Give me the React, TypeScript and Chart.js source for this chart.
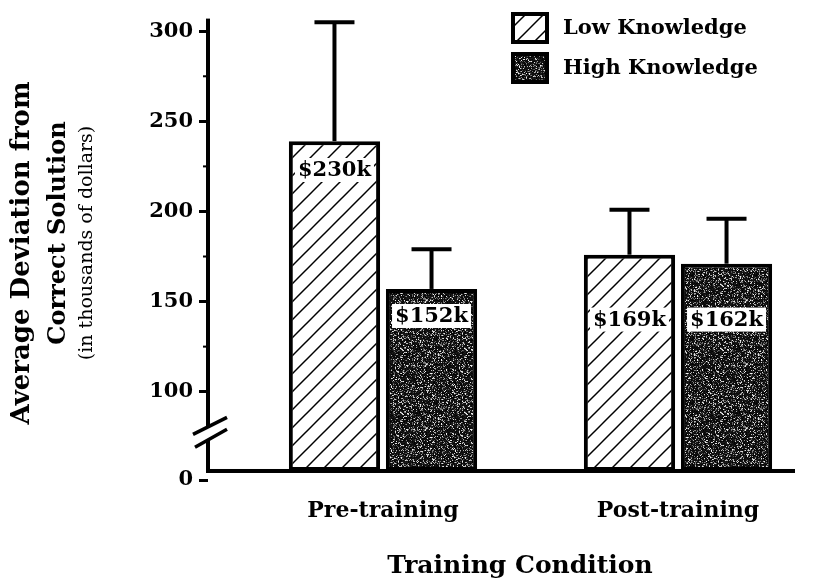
import React, { useEffect, useRef } from "react";
import { Chart, registerables } from "chart.js";

Chart.register(...registerables);

// ---------- data ----------
const categories = ["Pre-training", "Post-training"];
const seriesNames = ["Low Knowledge", "High Knowledge"];
const lowValues = [239, 176];
const highValues = [157, 171];
const lowErrTop = [305, 201];
const highErrTop = [179, 196];
const lowLabels = ["$230k", "$169k"];
const highLabels = ["$152k", "$162k"];
const lowLabelAt = [223, 140];
const highLabelAt = [142, 140];
const yTickValues = [100, 150, 200, 250, 300];
const yMinorTicks = [125, 175, 225, 275];
const zeroTickLabel = "0";
const zeroTickAt = 51; // where the "0" label sits, just under the broken axis
const breakZero = 56; // axis value standing for "0" (bar base) below the axis break
const yMax = 307;
const xTitle = "Training Condition";
const yTitleLines = ["Average Deviation from", "Correct Solution", "(in thousands of dollars)"];

const SERIF = "'DejaVu Serif', 'Liberation Serif', serif";

function mulberry32(a: number) {
  return function () {
    a |= 0;
    a = (a + 0x6d2b79f5) | 0;
    let t = Math.imul(a ^ (a >>> 15), 1 | a);
    t = (t + Math.imul(t ^ (t >>> 7), 61 | t)) ^ t;
    return ((t ^ (t >>> 14)) >>> 0) / 4294967296;
  };
}

function makeHatch(ctx: CanvasRenderingContext2D) {
  const c = document.createElement("canvas");
  const s = 18;
  c.width = s;
  c.height = s;
  const g = c.getContext("2d")!;
  g.fillStyle = "#fff";
  g.fillRect(0, 0, s, s);
  g.strokeStyle = "#000";
  g.lineWidth = 1.5;
  for (const k of [-s, 0, s]) {
    g.beginPath();
    g.moveTo(-5, s + 5 + k);
    g.lineTo(s + 5, -5 + k);
    g.stroke();
  }
  return ctx.createPattern(c, "repeat")!;
}

function makeSpeckle(ctx: CanvasRenderingContext2D) {
  const c = document.createElement("canvas");
  const s = 64;
  c.width = s;
  c.height = s;
  const g = c.getContext("2d")!;
  const img = g.createImageData(s, s);
  const rnd = mulberry32(12345);
  for (let i = 0; i < s * s; i++) {
    const r = rnd();
    const v = r < 0.74 ? rnd() * 30 : r < 0.88 ? 70 + rnd() * 70 : 150 + rnd() * 100;
    img.data[i * 4] = v;
    img.data[i * 4 + 1] = v;
    img.data[i * 4 + 2] = v;
    img.data[i * 4 + 3] = 255;
  }
  g.putImageData(img, 0, 0);
  return ctx.createPattern(c, "repeat")!;
}

const overlayPlugin = {
  id: "overlay",
  afterDatasetsDraw(chart: any) {
    const ctx: CanvasRenderingContext2D = chart.ctx;
    const ys = chart.scales.y;
    const ca = chart.chartArea;
    const baseY = ys.getPixelForValue(breakZero);
    const errs = [lowErrTop, highErrTop];
    const labs = [lowLabels, highLabels];
    const labAt = [lowLabelAt, highLabelAt];
    ctx.save();
    // error bars
    for (let d = 0; d < 2; d++) {
      const meta = chart.getDatasetMeta(d);
      meta.data.forEach((bar: any, i: number) => {
        const cx = bar.x;
        const top = bar.y;
        const ey = ys.getPixelForValue(errs[d][i]);
        ctx.strokeStyle = "#000";
        ctx.lineWidth = 4;
        ctx.beginPath();
        ctx.moveTo(cx, top);
        ctx.lineTo(cx, ey);
        ctx.stroke();
        ctx.beginPath();
        ctx.moveTo(cx - 20, ey);
        ctx.lineTo(cx + 20, ey);
        ctx.stroke();
      });
    }
    // value labels
    ctx.font = `bold 21px ${SERIF}`;
    ctx.textAlign = "center";
    ctx.textBaseline = "middle";
    for (let d = 0; d < 2; d++) {
      const meta = chart.getDatasetMeta(d);
      meta.data.forEach((bar: any, i: number) => {
        const t = labs[d][i];
        const ly = ys.getPixelForValue(labAt[d][i]);
        const w = ctx.measureText(t).width;
        ctx.fillStyle = "#fff";
        ctx.fillRect(bar.x - w / 2 - 3, ly - 12, w + 6, 24);
        ctx.fillStyle = "#000";
        ctx.fillText(t, bar.x, ly + 1);
      });
    }
    // axis lines
    ctx.fillStyle = "#000";
    ctx.fillRect(ca.left - 2, ca.top, 4, baseY - ca.top + 2);
    ctx.fillRect(ca.left - 2, baseY - 2, ca.right - ca.left + 2, 4);
    // minor ticks
    for (const v of yMinorTicks) {
      const p = ys.getPixelForValue(v);
      ctx.fillRect(ca.left - 5, p - 1, 4, 2);
    }
    // axis break
    const bx = ca.left;
    const by = (ys.getPixelForValue(100) + baseY) / 2 + 2;
    ctx.fillStyle = "#fff";
    ctx.beginPath();
    ctx.moveTo(bx - 15, by + 1);
    ctx.lineTo(bx + 19, by - 16);
    ctx.lineTo(bx + 19, by - 4);
    ctx.lineTo(bx - 13, by + 14);
    ctx.closePath();
    ctx.fill();
    ctx.strokeStyle = "#000";
    ctx.lineWidth = 3.5;
    ctx.beginPath();
    ctx.moveTo(bx - 15, by + 1);
    ctx.lineTo(bx + 19, by - 16);
    ctx.moveTo(bx - 13, by + 14);
    ctx.lineTo(bx + 19, by - 4);
    ctx.stroke();
    ctx.restore();
  },
  afterDraw(chart: any) {
    const ctx: CanvasRenderingContext2D = chart.ctx;
    ctx.save();
    ctx.fillStyle = "#000";
    // x title
    ctx.font = `bold 25px ${SERIF}`;
    ctx.textAlign = "center";
    ctx.textBaseline = "alphabetic";
    ctx.fillText(xTitle, 520, 573);
    // y title
    const ycfg = [
      { x: 22, y: 253, font: `bold 26px ${SERIF}` },
      { x: 59, y: 233, font: `bold 24px ${SERIF}` },
      { x: 87, y: 243, font: `19px ${SERIF}` },
    ];
    yTitleLines.forEach((t, i) => {
      ctx.save();
      ctx.translate(ycfg[i].x, ycfg[i].y);
      ctx.rotate(-Math.PI / 2);
      ctx.font = ycfg[i].font;
      ctx.textAlign = "center";
      ctx.textBaseline = "middle";
      ctx.fillText(t, 0, 0);
      ctx.restore();
    });
    // legend
    const ds = chart.data.datasets;
    ctx.font = `bold 21px ${SERIF}`;
    ctx.textAlign = "left";
    ctx.textBaseline = "middle";
    const rows = [28, 68];
    ds.forEach((d: any, i: number) => {
      const cy = rows[i];
      ctx.fillStyle = d.backgroundColor;
      ctx.fillRect(513, cy - 14, 34, 28);
      ctx.strokeStyle = "#000";
      ctx.lineWidth = 4;
      ctx.strokeRect(513, cy - 14, 34, 28);
      ctx.fillStyle = "#000";
      ctx.fillText(d.label, 563, cy + 1);
    });
    ctx.restore();
  },
};

export default function App() {
  const ref = useRef<HTMLCanvasElement | null>(null);
  useEffect(() => {
    const canvas = ref.current!;
    const ctx = canvas.getContext("2d")!;
    const hatch = makeHatch(ctx);
    const speckle = makeSpeckle(ctx);
    const common = {
      borderColor: "#000",
      borderWidth: 4,
      borderSkipped: false,
      categoryPercentage: 0.658,
      barPercentage: 0.94,
      base: breakZero,
    };
    const chart = new Chart(canvas, {
      type: "bar",
      data: {
        datasets: [
          {
            label: seriesNames[0],
            data: lowValues.map((v, i) => ({ x: i + 1, y: v })),
            backgroundColor: hatch as any,
            ...common,
          } as any,
          {
            label: seriesNames[1],
            data: highValues.map((v, i) => ({ x: i + 1, y: v })),
            backgroundColor: speckle as any,
            ...common,
          } as any,
        ],
      },
      options: {
        animation: false,
        responsive: false,
        devicePixelRatio: 1,
        events: [],
        layout: { padding: { top: 12, right: 21, left: 0, bottom: 0 } },
        plugins: { legend: { display: false }, tooltip: { enabled: false } },
        scales: {
          x: {
            type: "linear",
            min: 0.4068,
            max: 2.3966,
            offset: false,
            afterBuildTicks: (s: any) => {
              s.ticks = categories.map((_, i) => ({ value: i + 1 }));
            },
            afterFit: (s: any) => {
              s.height = 100;
            },
            ticks: {
              autoSkip: false,
              maxRotation: 0,
              padding: 18,
              color: "#000",
              font: { family: SERIF, weight: "bold", size: 22 },
              callback: (v: any) => categories[Number(v) - 1] ?? "",
            },
            grid: { display: false, drawTicks: false },
            border: { display: false },
          },
          y: {
            type: "linear",
            min: zeroTickAt,
            max: yMax,
            afterBuildTicks: (s: any) => {
              s.ticks = [zeroTickAt, ...yTickValues].map((v) => ({ value: v }));
            },
            afterFit: (s: any) => {
              s.width = 208;
            },
            ticks: {
              autoSkip: false,
              padding: 6,
              color: "#000",
              font: { family: SERIF, weight: "bold", size: 21 },
              callback: (v: any) => (v === zeroTickAt ? zeroTickLabel : String(v)),
            },
            grid: {
              display: true,
              drawOnChartArea: false,
              drawTicks: true,
              tickLength: 9,
              tickWidth: 3,
              tickColor: "#000",
            },
            border: { display: false },
          },
        },
      },
      plugins: [overlayPlugin],
    });
    return () => chart.destroy();
  }, []);
  return (
    <div style={{ position: "absolute", left: 0, top: 0, width: 816, height: 580, background: "#fff" }}>
      <canvas ref={ref} width={816} height={580} style={{ display: "block" }} />
    </div>
  );
}
